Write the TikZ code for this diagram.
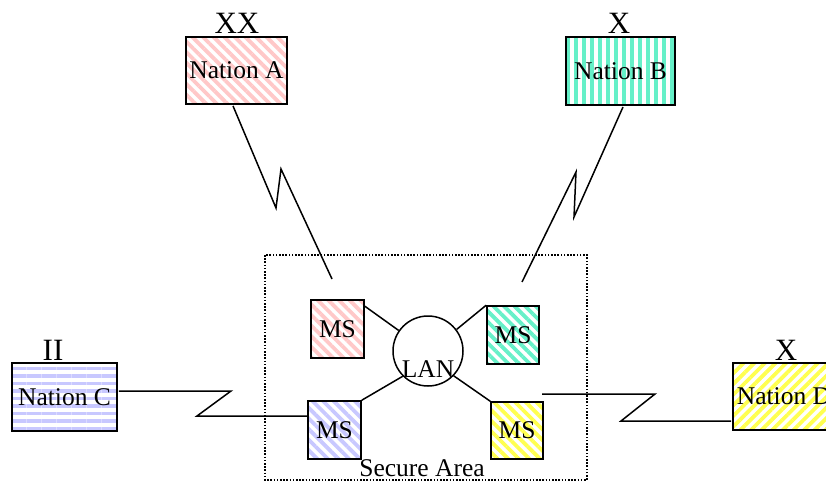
\documentclass[tikz,border=0pt]{standalone}
\usepackage{fontspec}
\setmainfont{Liberation Serif}
\usetikzlibrary{patterns.meta,calc}
\definecolor{pinkS}{RGB}{255,200,200}
\definecolor{greenS}{RGB}{102,240,200}
\definecolor{blueS}{RGB}{200,200,255}
\definecolor{yellowS}{RGB}{255,255,80}
\begin{document}
\begin{tikzpicture}[x=1pt,y=-1pt,
  box/.style={draw=black,line width=1.6pt,inner sep=0pt,font=\fontsize{25.5}{30}\selectfont},
  ms/.style={box,minimum width=53pt,minimum height=58pt},
  nation/.style={box,minimum height=67pt},
  lbl/.style={anchor=base,inner sep=0pt,font=\fontsize{31}{36}\selectfont},
  txt/.style={anchor=base,inner sep=0pt,font=\fontsize{25.5}{30}\selectfont},
  conn/.style={line width=1.5pt},
  diagR/.style={pattern={Lines[angle=-45,distance=7.5pt,line width=3.8pt]}},
  diagL/.style={pattern={Lines[angle=45,distance=7.5pt,line width=3.8pt]}},
  vert/.style={pattern={Lines[angle=90,distance=8pt,line width=4pt]}},
  horz/.style={pattern={Lines[angle=0,distance=7.5pt,line width=3.8pt]}}]
\useasboundingbox (0,0) rectangle (826,481);
\clip (0,0) rectangle (826,481);

% secure area
\draw[line width=1.3pt,dash pattern=on 1.6pt off 1.6pt] (265,255) rectangle (587,480);
\node[txt] (sa) at (422,476) {Secure Area};

% nations
\node[nation,minimum width=101pt,diagR,pattern color=pinkS] (nA) at (236.5,70.5) {Nation A};
\node[nation,minimum width=109pt,minimum height=68pt,vert,pattern color=greenS] (nB) at (620.5,71) {Nation B};
\node[nation,minimum width=105pt,minimum height=68pt,horz,pattern color=blueS] (nC) at (64.5,397) {Nation C};
\node[nation,minimum width=102pt,diagL,pattern color=yellowS] (nD) at (784,396.5) {Nation D};

\node[lbl] (lA) at (237,34) {XX};
\node[lbl] (lB) at (619,34) {X};
\node[lbl] (lC) at (53,360) {II};
\node[lbl] (lD) at (786,360) {X};

% MS boxes
\node[ms,diagR,pattern color=pinkS] (msA) at (337.5,329) {MS};
\node[ms,minimum width=52pt,diagR,pattern color=greenS] (msB) at (513,335) {MS};
\node[ms,diagR,pattern color=blueS] (msC) at (334.5,430) {MS};
\node[ms,minimum width=52pt,minimum height=57pt,diagR,pattern color=yellowS] (msD) at (517,430.5) {MS};

% LAN
\node[circle,draw=black,line width=1.5pt,minimum size=70pt,inner sep=0pt] (lan) at (428,351) {};
\node[txt] (lant) at (428,377) {LAN};

\draw[conn] ($(msA.north east)+(0,7)$) -- (lan.145);
\draw[conn] (msB.north west) -- (lan.37);
\draw[conn] (msC.north east) -- (lan.225);
\draw[conn] (msD.north west) -- (lan.-44);

% zigzag links
\coordinate (eA) at (332,279);
\coordinate (eB) at (522,282);
\coordinate (eD) at (542,394);
\draw[conn] (nA.south -| 233,0) -- (276,208) -- (281,169) -- (eA);
\draw[conn] (nB.south -| 623,0) -- (574,217) -- (576,172) -- (eB);
\draw[conn] (nC.east |- 0,391) -- (231,391) -- (197,416) -- (msC.west |- 0,416);
\draw[conn] (eD) -- (655,394) -- (621,421) -- (nD.west |- 0,421);
\end{tikzpicture}
\end{document}
